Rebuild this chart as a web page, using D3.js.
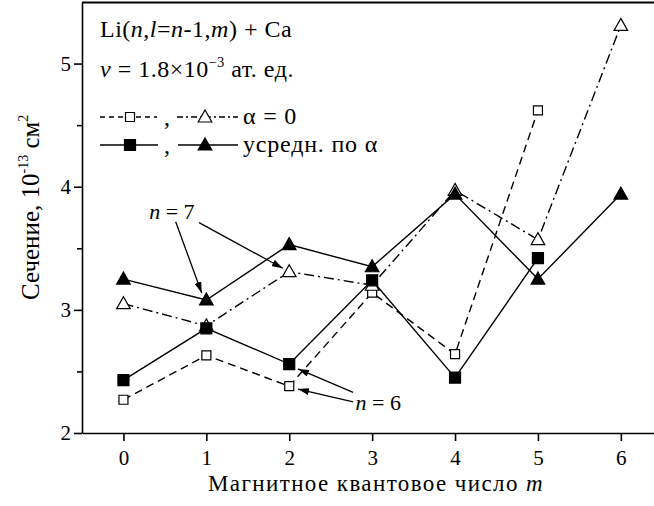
<!DOCTYPE html>
<html>
<head>
<meta charset="utf-8">
<script src="https://cdn.jsdelivr.net/npm/d3@7"></script>
<style>
  body { margin: 0; background: #fff; }
  text { font-family: "Liberation Serif", "DejaVu Serif", serif; fill: #000; }
</style>
</head>
<body>
<svg id="chart" width="654" height="506"></svg>
<script>
// data
var mVals = [0, 1, 2, 3, 4, 5, 6];
var n6Alpha0 = [2.27, 2.63, 2.38, 3.14, 2.64, 4.62];          // open squares, dashed
var n6Avg    = [2.43, 2.85, 2.56, 3.24, 2.45, 3.42];          // filled squares, solid
var n7Alpha0 = [3.05, 2.87, 3.31, 3.20, 3.97, 3.57, 5.31];    // open triangles, dash-dot
var n7Avg    = [3.25, 3.08, 3.53, 3.35, 3.94, 3.25, 3.94];    // filled triangles, solid
var yMajor = [2, 3, 4, 5];
var yMinor = [2.5, 3.5, 4.5];

// annotation arrows (data coords): from label to point
var notes = [
  { label: "7", at: [0.31, 3.74], arrows: [[[0.63, 3.716], [0.944, 3.137]], [[0.912, 3.708], [1.922, 3.338]]] },
  { label: "6", at: [2.80, 2.19], arrows: [[[2.77, 2.33], [2.106, 2.52]], [[2.77, 2.252], [2.106, 2.357]]] }
];

var svg = d3.select("#chart");
var plotL = 82, plotR = 654, plotT = 2, plotB = 433;

var x = d3.scaleLinear().domain([-0.5, 6.4]).range([plotL, plotR]);
var y = d3.scaleLinear().domain([2, 5.5]).range([plotB, plotT]);

var defs = svg.append("defs");
defs.append("marker")
    .attr("id", "arr")
    .attr("viewBox", "0 0 11 7")
    .attr("refX", 11).attr("refY", 3.5)
    .attr("markerWidth", 11).attr("markerHeight", 7)
    .attr("markerUnits", "userSpaceOnUse")
    .attr("orient", "auto")
  .append("path")
    .attr("d", "M0,0 L11,3.5 L0,7 Z")
    .attr("fill", "#000");

// axes
var gx = svg.append("g")
    .attr("transform", "translate(0," + plotB + ")")
    .call(d3.axisBottom(x).tickValues(mVals).tickSize(8).tickSizeOuter(0).tickPadding(9).tickFormat(d3.format("d")));
var gy = svg.append("g")
    .attr("transform", "translate(" + plotL + ",0)")
    .call(d3.axisLeft(y).tickValues(yMajor).tickSize(8).tickSizeOuter(0).tickPadding(3).tickFormat(d3.format("d")));
var gyMinor = svg.append("g")
    .attr("transform", "translate(" + plotL + ",0)")
    .call(d3.axisLeft(y).tickValues(yMinor).tickSize(5).tickSizeOuter(0).tickFormat(""));
gyMinor.select(".domain").remove();

[gx, gy, gyMinor].forEach(function(g) {
  g.attr("font-family", null);
  g.selectAll("path, line").attr("stroke", "#000").attr("stroke-width", 1.6);
  g.selectAll("text").style("font-size", "21px").attr("fill", "#000");
});

// top border
svg.append("line")
    .attr("x1", plotL).attr("x2", plotR)
    .attr("y1", plotT + 0.5).attr("y2", plotT + 0.5)
    .attr("stroke", "#000").attr("stroke-width", 2);

// series
var series = [
  { vals: n6Alpha0, dash: "8,5",      shape: "sq",  fill: "#fff" },
  { vals: n7Alpha0, dash: "10,4,2,4", shape: "tri", fill: "#fff" },
  { vals: n6Avg,    dash: null,       shape: "sq",  fill: "#000" },
  { vals: n7Avg,    dash: null,       shape: "tri", fill: "#000" }
];

var line = d3.line().x(function(d, i) { return x(mVals[i]); }).y(function(d) { return y(d); });

series.forEach(function(s) {
  svg.append("path")
      .attr("d", line(s.vals))
      .attr("fill", "none")
      .attr("stroke", "#000")
      .attr("stroke-width", 1.4)
      .attr("stroke-dasharray", s.dash);
});

function symbolPath(shape, filled) {
  if (shape == "sq") {
    var h = filled ? 5.5 : 4.5;
    return "M" + (-h) + "," + (-h) + "H" + h + "V" + h + "H" + (-h) + "Z";
  }
  return "M0,-7 L6.8,5 L-6.8,5 Z";
}

function drawSymbol(g, cx, cy, shape, fill) {
  g.append("path")
      .attr("d", symbolPath(shape, fill == "#000"))
      .attr("transform", "translate(" + cx + "," + cy + ")")
      .attr("fill", fill)
      .attr("stroke", "#000")
      .attr("stroke-width", 1.2);
}

series.forEach(function(s) {
  s.vals.forEach(function(v, i) {
    drawSymbol(svg, x(mVals[i]), y(v), s.shape, s.fill);
  });
});

// annotations
notes.forEach(function(nt) {
  var t = svg.append("text")
      .attr("x", x(nt.at[0])).attr("y", y(nt.at[1]))
      .style("font-size", "22px");
  t.append("tspan").style("font-style", "italic").text("n");
  t.append("tspan").text(" = " + nt.label);
  nt.arrows.forEach(function(a) {
    svg.append("line")
        .attr("x1", x(a[0][0])).attr("y1", y(a[0][1]))
        .attr("x2", x(a[1][0])).attr("y2", y(a[1][1]))
        .attr("stroke", "#000").attr("stroke-width", 1.3)
        .attr("marker-end", "url(#arr)");
  });
});

// legend
var lg = svg.append("g");
var t1 = lg.append("text").attr("x", 100).attr("y", 37).style("font-size", "24px").style("letter-spacing", "0.5px");
t1.append("tspan").text("Li(");
t1.append("tspan").style("font-style", "italic").text("n");
t1.append("tspan").text(",");
t1.append("tspan").style("font-style", "italic").text("l");
t1.append("tspan").text("=");
t1.append("tspan").style("font-style", "italic").text("n");
t1.append("tspan").text("-1,");
t1.append("tspan").style("font-style", "italic").text("m");
t1.append("tspan").text(") + Ca");

var t2 = lg.append("text").attr("x", 100).attr("y", 77).style("font-size", "24px").style("letter-spacing", "0.5px");
t2.append("tspan").style("font-style", "italic").text("v");
t2.append("tspan").text(" = 1.8×10");
t2.append("tspan").attr("dy", -10).style("font-size", "14px").text("\u22123");
t2.append("tspan").attr("dy", 10).text(" ат. ед.");

var legendRows = [
  { y: 117, items: [{ x1: 100, x2: 157, mx: 130, dash: "5,4", shape: "sq", fill: "#fff" },
                    { x1: 177, x2: 238, mx: 205, dash: "6,3,2,3", shape: "tri", fill: "#fff" }],
    text: "α = 0" },
  { y: 145, items: [{ x1: 100, x2: 158, mx: 130, dash: null, shape: "sq", fill: "#000" },
                    { x1: 178, x2: 238, mx: 205, dash: null, shape: "tri", fill: "#000" }],
    text: "усредн. по α" }
];

legendRows.forEach(function(r) {
  r.items.forEach(function(it) {
    lg.append("line")
        .attr("x1", it.x1).attr("x2", it.x2)
        .attr("y1", r.y).attr("y2", r.y)
        .attr("stroke", "#000").attr("stroke-width", 1.4)
        .attr("stroke-dasharray", it.dash);
    drawSymbol(lg, it.mx, r.y, it.shape, it.fill);
  });
  lg.append("text").attr("x", 164).attr("y", r.y + 8).style("font-size", "24px").text(",");
  lg.append("text").attr("x", 243).attr("y", r.y + 7).style("font-size", "24px").style("letter-spacing", "0.8px").text(r.text);
});

// axis titles
var xt = svg.append("text")
    .attr("x", 376).attr("y", 491)
    .attr("text-anchor", "middle")
    .style("font-size", "23px")
    .style("letter-spacing", "1.4px");
xt.append("tspan").text("Магнитное квантовое число ");
xt.append("tspan").style("font-style", "italic").text("m");

var yt = svg.append("text")
    .attr("transform", "translate(39,300) rotate(-90)")
    .style("font-size", "25px");
yt.append("tspan").text("Сечение, 10");
yt.append("tspan").attr("dy", -11).style("font-size", "14px").text("-13");
yt.append("tspan").attr("dy", 11).text(" см");
yt.append("tspan").attr("dy", -11).style("font-size", "14px").text("2");
</script>
</body>
</html>
